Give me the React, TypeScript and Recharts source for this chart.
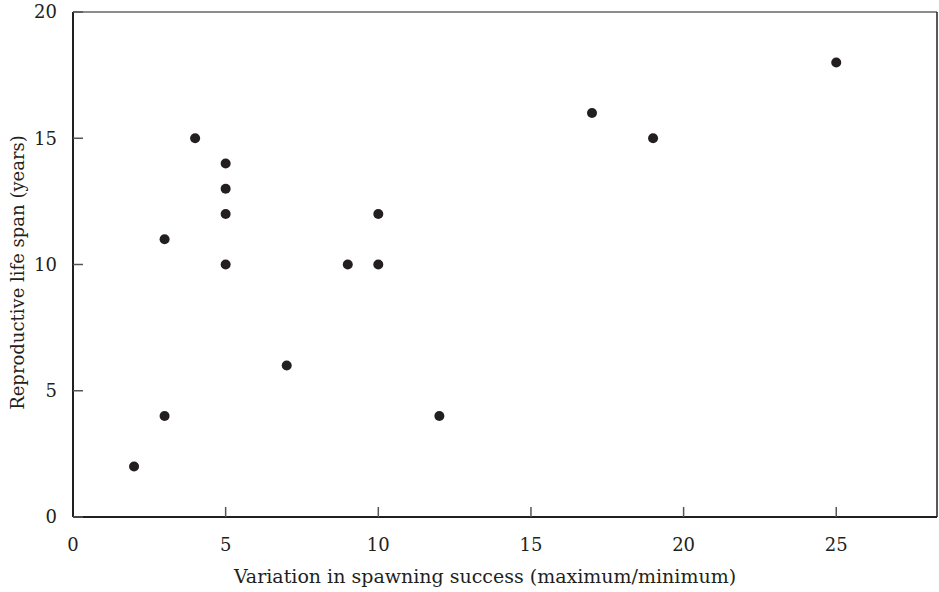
import { ScatterChart, Scatter, XAxis, YAxis, ReferenceLine } from 'recharts'

const spawningVariation = [2, 3, 3, 4, 5, 5, 5, 5, 7, 9, 10, 10, 12, 17, 19, 25]
const lifeSpan = [2, 4, 11, 15, 14, 13, 12, 10, 6, 10, 12, 10, 4, 16, 15, 18]
const xTicks = [0, 5, 10, 15, 20, 25]
const yTicks = [0, 5, 10, 15, 20]
const xTitle = 'Variation in spawning success (maximum/minimum)'
const yTitle = 'Reproductive life span (years)'

const points = spawningVariation.map((x, i) => ({ x, y: lifeSpan[i] }))

const ink = '#231f20'
const serif = '"DejaVu Serif", serif'
const tickFont = { fontFamily: serif, fontSize: 18, fill: ink }

export default function App() {
  return (
    <div style={{ position: 'absolute', left: 0, top: 0, width: 939, height: 592 }}>
      <ScatterChart width={939} height={592} margin={{ top: 12, right: 2, bottom: 0, left: 0 }}>
        <XAxis
          type="number"
          dataKey="x"
          domain={[0, 28.3]}
          ticks={xTicks}
          height={75}
          tickSize={-10}
          tickMargin={31}
          tick={tickFont}
          tickLine={{ stroke: '#555', strokeWidth: 1.5 }}
          axisLine={{ stroke: ink, strokeWidth: 2 }}
          label={{
            content: ({ viewBox }: any) => (
              <text x={viewBox.x + viewBox.width / 2 - 20} y={583} textAnchor="middle"
                fontFamily={serif} fontSize={19} fill={ink}>{xTitle}</text>
            ),
          }}
        />
        <YAxis
          type="number"
          dataKey="y"
          domain={[0, 20]}
          ticks={yTicks}
          width={73}
          tickSize={-10}
          tickMargin={26}
          tick={tickFont}
          tickLine={{ stroke: '#555', strokeWidth: 1.5 }}
          axisLine={{ stroke: ink, strokeWidth: 2 }}
          label={{
            content: ({ viewBox }: any) => {
              const cy = viewBox.y + viewBox.height / 2 + 8
              return (
                <text x={24} y={cy} transform={`rotate(-90 24 ${cy})`} textAnchor="middle"
                  fontFamily={serif} fontSize={18} fill={ink}>{yTitle}</text>
              )
            },
          }}
        />
        <ReferenceLine y={20} stroke="#666" strokeWidth={1.5} />
        <ReferenceLine x={28.3} stroke={ink} strokeWidth={1.5} />
        <Scatter data={points} fill={ink} isAnimationActive={false}
          shape={(p: any) => <circle cx={p.cx} cy={p.cy} r={5} fill={ink} />} />
      </ScatterChart>
    </div>
  )
}
